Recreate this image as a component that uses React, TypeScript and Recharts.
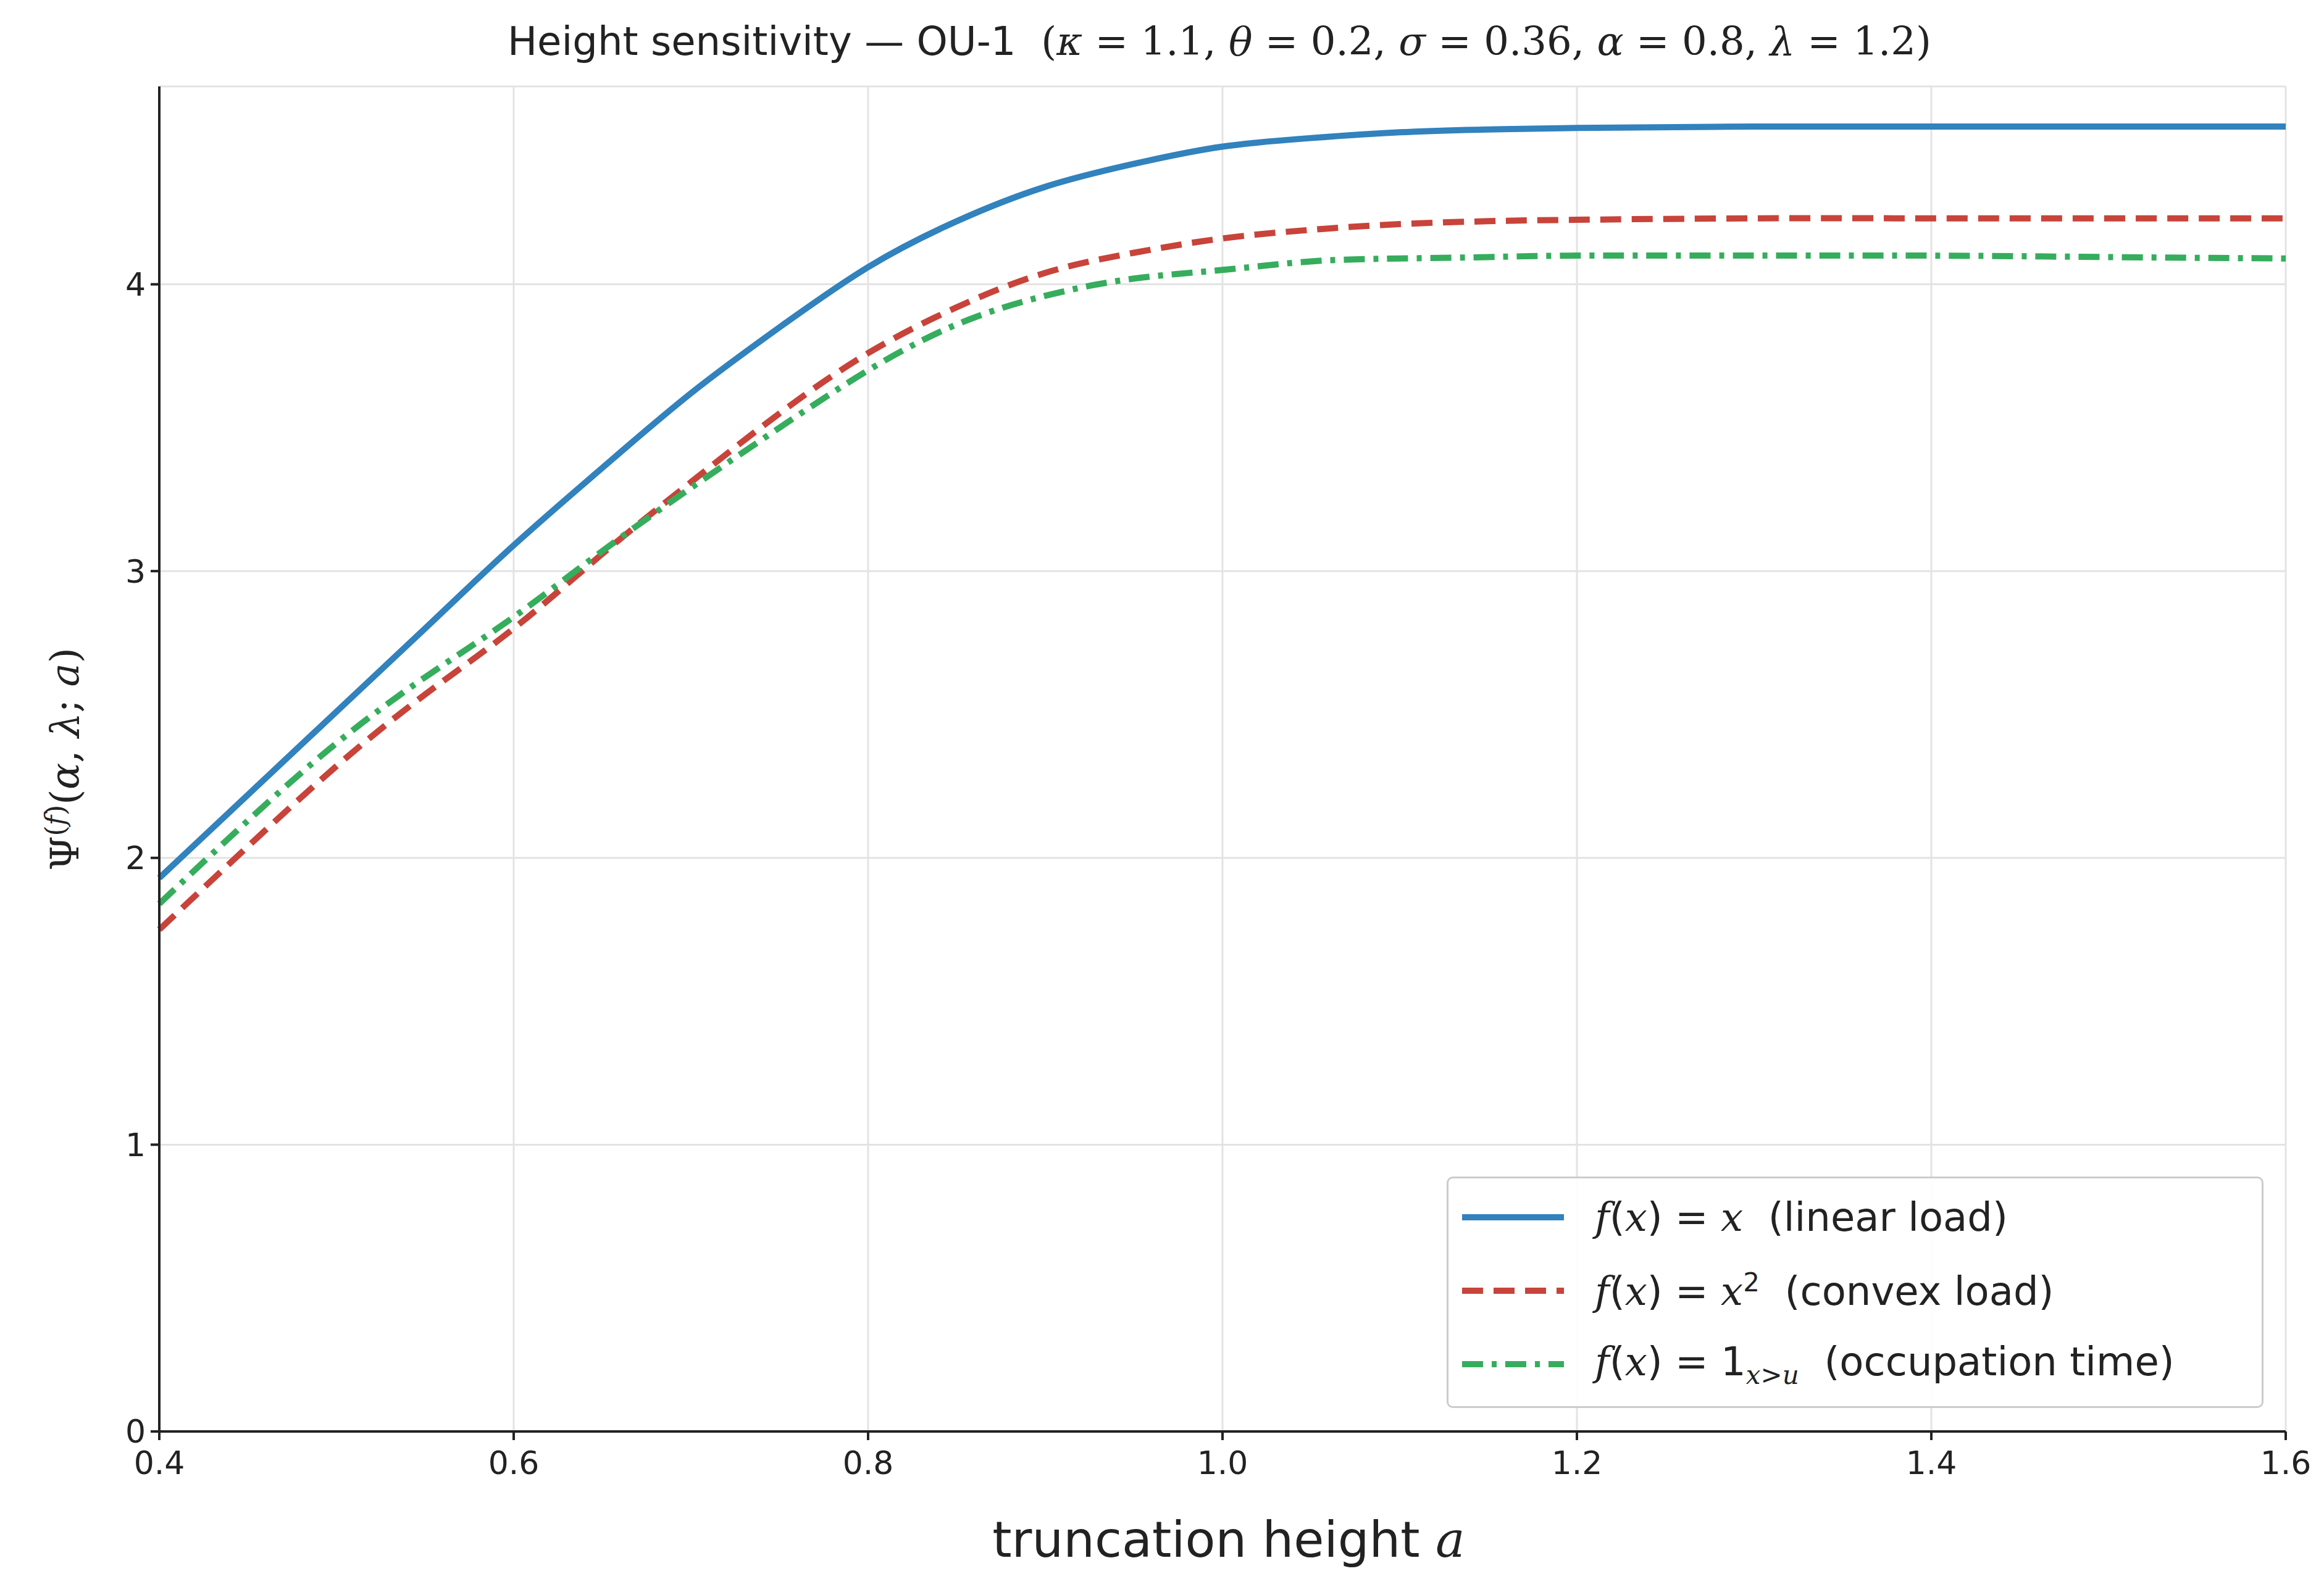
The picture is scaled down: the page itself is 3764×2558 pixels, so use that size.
import React from "react";
import { LineChart, Line, XAxis, YAxis, CartesianGrid } from "recharts";

const xs = [0.4,0.45,0.5,0.55,0.6,0.65,0.7,0.75,0.8,0.85,0.9,0.95,1.0,1.05,1.1,1.15,1.2,1.3,1.4,1.5,1.6];
const linear = [1.93,2.22,2.51,2.8,3.09,3.36,3.62,3.85,4.06,4.22,4.34,4.42,4.48,4.51,4.53,4.54,4.545,4.55,4.55,4.55,4.55];
const convex = [1.75,2.04,2.32,2.57,2.8,3.06,3.31,3.55,3.76,3.92,4.04,4.11,4.16,4.19,4.21,4.22,4.225,4.23,4.23,4.23,4.23];
const occupation = [1.84,2.13,2.4,2.63,2.84,3.07,3.29,3.5,3.7,3.86,3.96,4.02,4.05,4.08,4.09,4.095,4.1,4.1,4.1,4.095,4.09];
const xTicks = [0.4,0.6,0.8,1.0,1.2,1.4,1.6];
const yTicks = [0,1,2,3,4];

const data = xs.map((x, i) => ({ x, a: linear[i], b: convex[i], c: occupation[i] }));

const BLUE = "#3182bd";
const RED = "#c8433a";
const GREEN = "#36ad5d";
const font = "DejaVu Sans";
const mfont = "DejaVu Serif";

const M = (s: string) => <span style={{ fontFamily: mfont, fontStyle: "italic" }}>{s}</span>;

export default function App() {
  return (
    <div style={{ position: "relative", width: 3764, height: 2558, background: "#fff", fontFamily: font }}>
      <LineChart width={3764} height={2558} data={data} margin={{ top: 132, left: 150, right: 70, bottom: 187 }}>
        <CartesianGrid stroke="#e3e3e3" strokeWidth={3} />
        <XAxis dataKey="x" type="number" domain={[0.4, 1.6]} ticks={xTicks} height={60}
          tickFormatter={(v: number) => v.toFixed(1)}
          stroke="#222" strokeWidth={4} tickSize={14} tick={{ fontSize: 52, fill: "#222", fontFamily: font, dy: 16 }} />
        <YAxis type="number" domain={[0, 4.69]} ticks={yTicks} width={100}
          stroke="#222" strokeWidth={4} tickSize={14} tick={{ fontSize: 52, fill: "#222", fontFamily: font, dx: -6 }} />
        <Line dataKey="a" type="natural" stroke={BLUE} strokeWidth={10} dot={false} isAnimationActive={false} />
        <Line dataKey="b" type="natural" stroke={RED} strokeWidth={10} strokeDasharray="34 17" dot={false} isAnimationActive={false} />
        <Line dataKey="c" type="natural" stroke={GREEN} strokeWidth={10} strokeDasharray="34 14 8 14" dot={false} isAnimationActive={false} />
      </LineChart>
      <div style={{ position: "absolute", left: 0, width: 3764, top: 22, textAlign: "center", fontSize: 64, color: "#222", paddingLeft: 170, boxSizing: "border-box" }}>
        Height sensitivity — OU-1&nbsp;&nbsp;<span style={{ fontFamily: mfont }}>(<i>κ</i> = 1.1, <i>θ</i> = 0.2, <i>σ</i> = 0.36, <i>α</i> = 0.8, <i>λ</i> = 1.2)</span>
      </div>
      <div style={{ position: "absolute", left: 0, width: 3764, top: 2440, textAlign: "center", fontSize: 80, color: "#222", paddingLeft: 200, boxSizing: "border-box" }}>
        truncation height {M("a")}
      </div>
      <div style={{ position: "absolute", left: 95, top: 1222, transform: "translate(-50%,-50%) rotate(-90deg)", whiteSpace: "nowrap", fontSize: 64, color: "#222", fontFamily: mfont }}>
        Ψ<sup style={{ fontSize: 44 }}>(<i>f</i>)</sup>(<i>α</i>, <i>λ</i>; <i>a</i>)
      </div>
      <div style={{ position: "absolute", left: 2335, top: 1898, width: 1323, height: 375, boxSizing: "border-box", border: "3px solid #ccc", borderRadius: 10, background: "rgba(255,255,255,0.9)" }}>
        {[
          { c: BLUE, d: "none", t: <>{M("f")}({M("x")}) = {M("x")}&nbsp;&nbsp;(linear load)</> },
          { c: RED, d: "34 17", t: <>{M("f")}({M("x")}) = {M("x")}<sup style={{ fontSize: 42 }}>2</sup>&nbsp;&nbsp;(convex load)</> },
          { c: GREEN, d: "34 14 8 14", t: <>{M("f")}({M("x")}) = 1<sub style={{ fontSize: 42 }}>{M("x")}&gt;{M("u")}</sub>&nbsp;&nbsp;(occupation time)</> },
        ].map((r, i) => (
          <div key={i} style={{ position: "absolute", left: 22, top: 28 + i * 119, height: 70, display: "flex", alignItems: "center", fontSize: 64, color: "#222", whiteSpace: "nowrap" }}>
            <svg width={165} height={20} style={{ marginRight: 50 }}>
              <line x1={0} y1={10} x2={165} y2={10} stroke={r.c} strokeWidth={10} strokeDasharray={r.d} />
            </svg>
            <span>{r.t}</span>
          </div>
        ))}
      </div>
    </div>
  );
}
